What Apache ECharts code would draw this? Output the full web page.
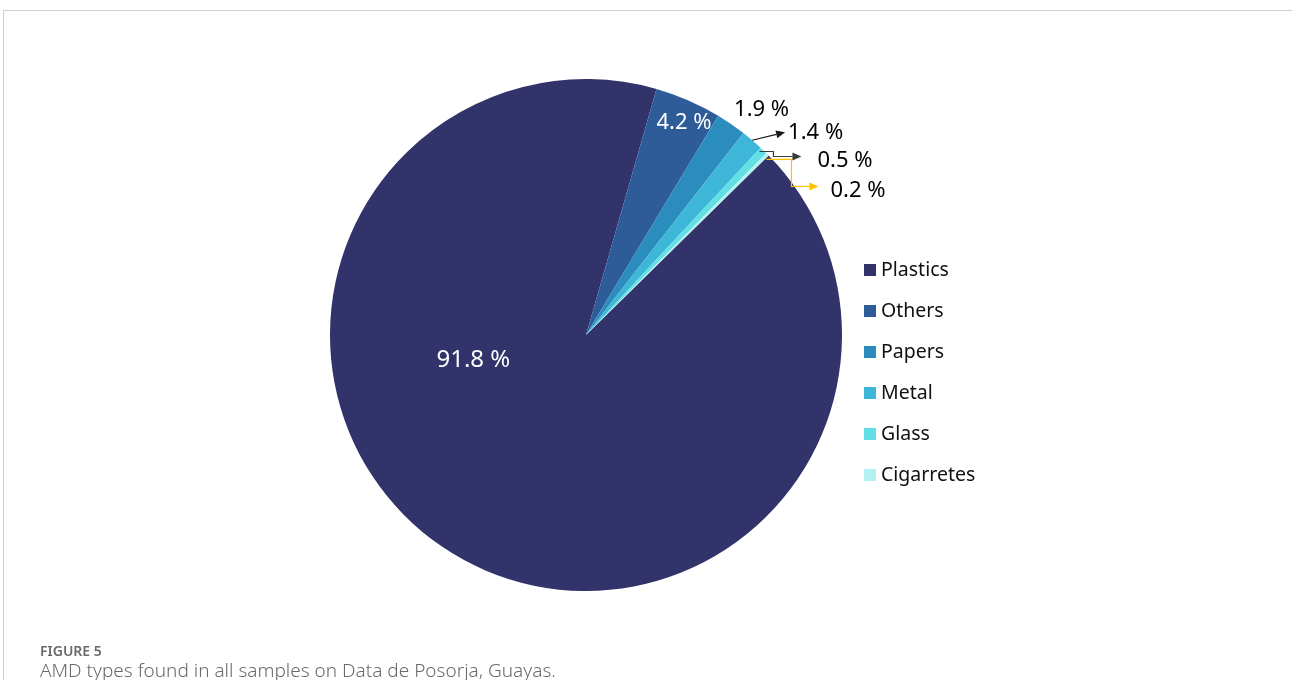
<!DOCTYPE html>
<html>
<head>
<meta charset="utf-8">
<title>AMD types – Data de Posorja</title>
<script src="https://cdn.jsdelivr.net/npm/echarts@6/dist/echarts.min.js"></script>
<style>
  html, body { margin: 0; padding: 0; background: #ffffff; }
  #chart { width: 1292px; height: 680px; }
</style>
</head>
<body>
<div id="chart"></div>
<script>
// Share of each debris type (percent of all items collected)
const categories = ['Plastics', 'Others', 'Papers', 'Metal', 'Glass', 'Cigarretes'];
const shares = [91.8, 4.2, 1.9, 1.4, 0.5, 0.2];
const sliceColors = ['#31336a', '#2e5c99', '#2b8cbe', '#3eb6d7', '#62dfe5', '#b5f0f1'];

// Where each value label sits: 'center' offsets are in units of the radius from the
// pie centre; 'edge' offsets are pixels from the midpoint of the slice's outer arc.
const labelPlace = [
  { mode: 'center', dx: -0.44, dy: 0.097, align: 'center', color: '#ffffff', size: 24 },
  { mode: 'center', dx: 0.383, dy: -0.828, align: 'center', color: '#ffffff', size: 22 },
  { mode: 'edge', dx: 3, dy: -14, align: 'left', color: '#000000', size: 22 },
  { mode: 'edge', dx: 36, dy: -7, align: 'left', color: '#000000', size: 22 },
  { mode: 'edge', dx: 54, dy: 10, align: 'left', color: '#000000', size: 22 },
  { mode: 'edge', dx: 63, dy: 36, align: 'left', color: '#000000', size: 22 }
];

// Leader arrows for the thin slices, as pixel offsets from the slice's outer arc midpoint
const leaders = [
  { index: 3, color: '#1a1a1a', pts: [[0, 0], [33, -8]] },
  { index: 4, color: '#3a3a3a', pts: [[-4, 1], [10, 1], [10, 6], [38, 6]] },
  { index: 5, color: '#ffc000', pts: [[-1, 5], [24, 5], [24, 32], [51, 32]] }
];

const FONT = '"Noto Sans", "Open Sans", sans-serif';
const chart = echarts.init(document.getElementById('chart'), null, { renderer: 'canvas' });

function sliceGeom(i) {
  const data = chart.getModel().getSeriesByIndex(0).getData();
  const L = data.getItemLayout(i);
  const mid = (L.startAngle + L.endAngle) / 2;
  return {
    cx: L.cx, cy: L.cy, r: L.r,
    ex: L.cx + L.r * Math.cos(mid),
    ey: L.cy + L.r * Math.sin(mid)
  };
}

const pieData = categories.map((name, i) => ({
  name: name,
  value: shares[i],
  itemStyle: { color: sliceColors[i] },
  label: {
    color: labelPlace[i].color,
    fontSize: labelPlace[i].size
  }
}));

const option = {
  backgroundColor: '#ffffff',
  animation: false,
  legend: {
    orient: 'vertical',
    left: 864,
    top: 260,
    padding: 0,
    icon: 'rect',
    itemWidth: 12,
    itemHeight: 12,
    itemGap: 21,
    selectedMode: false,
    data: categories,
    textStyle: { fontFamily: FONT, fontSize: 19.5, color: '#111111', lineHeight: 20, padding: [0, 0, 0, 0] }
  },
  series: [{
    type: 'pie',
    center: [586, 335],
    radius: 256,
    startAngle: 44.5,
    clockwise: true,
    avoidLabelOverlap: false,
    silent: true,
    itemStyle: { borderWidth: 0 },
    label: {
      show: true,
      position: 'inside',
      formatter: '{c} %',
      fontFamily: FONT
    },
    labelLine: { show: false },
    labelLayout: function (params) {
      const i = params.dataIndex;
      const p = labelPlace[i];
      const g = sliceGeom(i);
      let x, y;
      if (p.mode === 'center') {
        x = g.cx + p.dx * g.r;
        y = g.cy + p.dy * g.r;
      } else {
        x = g.ex + p.dx;
        y = g.ey + p.dy;
      }
      return { x: x, y: y, align: p.align, verticalAlign: 'middle' };
    },
    data: pieData
  }]
};

chart.setOption(option);

// Frame, caption and leader arrows
const graphics = [
  { type: 'line', shape: { x1: 3, y1: 10.5, x2: 1292, y2: 10.5 }, style: { stroke: '#cfcfcf', lineWidth: 1 } },
  { type: 'line', shape: { x1: 3.5, y1: 10, x2: 3.5, y2: 680 }, style: { stroke: '#cfcfcf', lineWidth: 1 } },
  { type: 'text', left: 40, top: 645, style: { text: 'FIGURE 5', font: '600 14px ' + FONT, fill: '#6a6a6a' } },
  { type: 'text', left: 40, top: 662, style: { text: 'AMD types found in all samples on Data de Posorja, Guayas.', font: '300 19px ' + FONT, fill: '#6a6a6a' } }
];

leaders.forEach(function (ld) {
  const g = sliceGeom(ld.index);
  const pts = ld.pts.map(function (q) { return [g.ex + q[0], g.ey + q[1]]; });
  const a = pts[pts.length - 2], b = pts[pts.length - 1];
  const ang = Math.atan2(b[1] - a[1], b[0] - a[0]);
  const len = 9, half = 4;
  const back = [b[0] - len * Math.cos(ang), b[1] - len * Math.sin(ang)];
  const tri = [
    b,
    [back[0] + half * Math.sin(ang), back[1] - half * Math.cos(ang)],
    [back[0] - half * Math.sin(ang), back[1] + half * Math.cos(ang)]
  ];
  const linePts = pts.slice(0, -1).concat([back]);
  graphics.push({ type: 'polyline', shape: { points: linePts }, style: { stroke: ld.color, lineWidth: 1.2, fill: null }, z: 10 });
  graphics.push({ type: 'polygon', shape: { points: tri }, style: { fill: ld.color }, z: 10 });
});

chart.setOption({ graphic: graphics });
</script>
</body>
</html>
